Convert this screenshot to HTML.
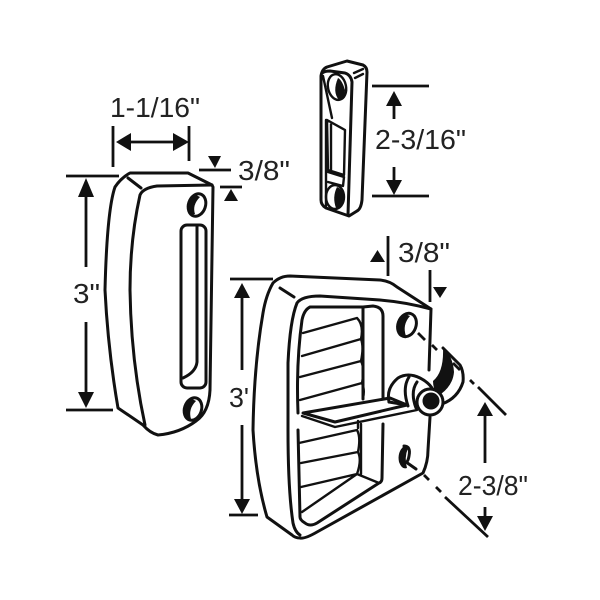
<!DOCTYPE html>
<html>
<head>
<meta charset="utf-8">
<style>
html,body{margin:0;padding:0;background:#fff;width:600px;height:600px;overflow:hidden}
svg{display:block}
text{font-family:"Liberation Sans",sans-serif;font-size:28px;fill:#222}
.o{fill:none;stroke:#111;stroke-width:3;stroke-linecap:round;stroke-linejoin:round}
.t{fill:none;stroke:#111;stroke-width:2.4;stroke-linecap:round;stroke-linejoin:round}
.d{fill:none;stroke:#111;stroke-width:2.8}
.b{fill:#111;stroke:none}
</style>
</head>
<body>
<svg width="600" height="600" viewBox="0 0 600 600" xmlns="http://www.w3.org/2000/svg">
<rect width="600" height="600" fill="#fff"/>

<!-- LEFT PIECE -->
<path class="o" d="M130 173 L188 173 L212 185 L213 187 L210 390 Q209 412 196 421 Q180 433 158 435 Q150 433 143 425 L118 408 Q108 350 105 290 Q107 210 115 187 Q121 178 130 173 Z"/>
<path class="o" d="M212 185 L157 186 Q143 188 140 195 Q130 240 130 290 Q131 360 145 425"/>
<path class="o" d="M128 178 L141 188"/>
<ellipse class="o" cx="197" cy="205" rx="8.5" ry="11.5" transform="rotate(18 197 205)"/>
<path class="b" d="M196 195 Q188 200 188 209 Q190 216 195 214 Q192 205 200 197 Z"/>
<ellipse class="o" cx="193" cy="409" rx="8.5" ry="11.5" transform="rotate(18 193 409)"/>
<path class="b" d="M192 399 Q184 404 184 414 Q186 421 191 419 Q188 409 196 401 Z"/>
<rect class="o" x="181" y="225" width="25" height="163" rx="6"/>
<path class="o" d="M197 226 L197 362 Q196 372 183 378"/>

<!-- left dims -->
<path class="d" d="M66 176 H119 M66 410 H113 M113 126 V167 M189 126 V161 M199 170 H231 M220 187 H242"/>
<path class="d" d="M86 190 V267 M86 322 V396 M125 142 H180"/>
<path class="b" d="M86 178 L78 197 L94 197 Z M86 408 L78 392 L94 392 Z M116 142 L131 133 L131 151 Z M189 142 L173 133 L173 151 Z"/>
<path class="b" d="M208 156 L221 156 L215 168 Z M224 201 L238 201 L231 189 Z"/>
<text x="110" y="117" textLength="90" lengthAdjust="spacingAndGlyphs">1-1/16"</text>
<text x="238" y="180" textLength="52" lengthAdjust="spacingAndGlyphs">3/8"</text>
<text x="73" y="303" textLength="27" lengthAdjust="spacingAndGlyphs">3"</text>

<!-- TOP PIECE -->
<path class="o" d="M321 76 Q322 69 327 67 L347 61 L363 65 Q367 67 367 72 L362 200 Q361 209 357 211 L349 216 L326 208 Q321 205 321 200 Z"/>
<path class="o" d="M322 73 Q325 71 330 71 L345 73 Q351 75 352 82 L348 215"/>
<path class="t" d="M354 73 L363 69 M355 78 L363 74"/>
<path class="t" d="M323 76 L332 118 M326 120 L326 206"/>
<ellipse class="t" cx="337" cy="87" rx="9" ry="13" transform="rotate(-12 337 87)"/>
<path class="b" d="M338 78 Q342 80 345 90 Q345 98 339 100 Q332 92 338 78 Z"/>
<path class="t" d="M327 120 L345 130 L344 175 L328 170 Z M331 124 L331 171 M328 172 L344 177 L343 186 L328 182"/>
<ellipse class="t" cx="335" cy="197" rx="9" ry="12"/>
<path class="b" d="M337 187 Q344 190 344 198 Q343 206 336 208 Q332 197 337 187 Z"/>
<path class="d" d="M372 86 H429 M372 196 H429 M394 104 V119 M394 167 V184"/>
<path class="b" d="M394 91 L386 106 L402 106 Z M394 195 L386 180 L402 180 Z"/>
<text x="375" y="149" textLength="91" lengthAdjust="spacingAndGlyphs">2-3/16"</text>

<!-- LATCH -->
<path class="o" d="M273 283 Q280 276 290 276 L380 280 Q390 281 397 287 L431 309 L429 370 M430 417 L428 450 Q428 462 423 473 L317 532 Q305 539 300 538 Q295 538 292 535 L267 517 Q256 480 253 430 Q254 365 263 313 Q266 295 273 283"/>
<path class="o" d="M431 309 Q405 302 380 300 L320 296 Q302 296 297 303 Q290 320 288 363 L288 430 Q288 490 293 523 Q295 532 300 535"/>
<path class="o" d="M280 288 L294 297"/>
<!-- recess -->
<path class="o" d="M363 307 L373 306 Q383 307 383 316 L383 398 M383 424 L382 478 Q382 482 379 483 L317 523 Q310 527 305 523 Q300 520 300 517 L298 430 M298 413 Q296 363 302 320 Q304 310 310 307 L363 307"/>
<path class="o" d="M363 307 L363 399"/>
<!-- ribs upper -->
<path class="t" d="M303 333 L357 318 Q364 325 361 339 L302 356 M361 339 Q364 347 361 361 L300 377 M361 361 Q365 369 362 383 L300 400 M362 383 Q365 390 363 398"/>
<!-- ribs lower -->
<path class="t" d="M299 443 L357 430 Q361 437 358 452 L301 463 M358 452 Q362 460 357 474 L301 487 M357 474 L302 512 M357 474 L379 483 M358 428 L358 421"/>
<path class="t" d="M361 424 L361 474"/>
<!-- lever -->
<path class="o" d="M303 413 L390 398 L407 405 L335 422 Z" style="fill:#fff"/>
<path class="t" d="M302 416 L335 427 L417 410"/>
<!-- knob -->
<path class="o" d="M389 402 Q386 388 398 378 Q408 372 420 378 Q428 382 432 388"/>
<path class="o" d="M389 402 L407 405"/>
<path class="o" d="M409 377 Q402 388 408 406 M417 382 Q410 392 416 408"/>
<!-- hook -->
<path class="b" d="M443 348 Q453 356 454 372 Q453 385 441 394 L437 396 Q433 388 433 381 Q444 372 443 348 Z"/>
<path class="o" d="M443 348 L460 365 Q464 372 463 382 Q458 398 442 404"/>
<circle class="o" cx="430" cy="402" r="13" style="fill:#fff"/>
<circle cx="431" cy="401" r="8.5" fill="#111"/>
<!-- holes -->
<ellipse class="o" cx="407" cy="325" rx="9" ry="12" transform="rotate(20 407 325)"/>
<path class="b" d="M405 314 Q397 320 399 332 Q402 338 406 336 Q402 325 410 316 Z"/>
<path class="b" d="M404 446 Q397 452 399 462 Q402 470 407 468 Q404 458 408 448 Z"/>
<path class="o" d="M404 446 Q411 446 409 456 Q408 462 406 462 L416 469"/>
<!-- dash lines -->
<path class="d" d="M418 333 L425 340 M432 345 L437 350 M453 363 L460 370 M470 380 L474 384 M478 387 L506 415 M424 475 L429 480 M436 487 L441 492 M445 497 L488 537"/>
<!-- latch dims -->
<path class="d" d="M230 279 H273 M229 515 H258 M242 294 V370 M242 425 V503 M388 236 V276 M430 270 V302 M485 414 V463 M485 507 V520"/>
<path class="b" d="M242 283 L234 298 L250 298 Z M242 514 L234 499 L250 499 Z M370 262 L385 262 L377.5 250 Z M433 287 L447 287 L440 298 Z M485 402 L477 416 L493 416 Z M485 531 L477 516 L493 516 Z"/>
<text x="398" y="262" textLength="52" lengthAdjust="spacingAndGlyphs">3/8"</text>
<text x="229" y="407" textLength="20" lengthAdjust="spacingAndGlyphs">3'</text>
<text x="458" y="495" textLength="70" lengthAdjust="spacingAndGlyphs">2-3/8"</text>
</svg>
</body>
</html>
